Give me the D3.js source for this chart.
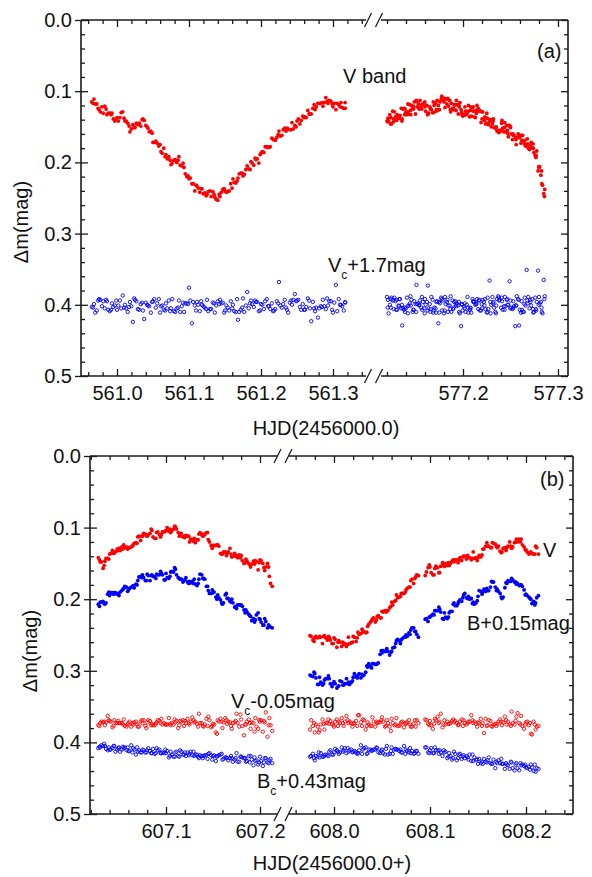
<!DOCTYPE html>
<html>
<head>
<meta charset="utf-8">
<script src="https://cdnjs.cloudflare.com/ajax/libs/d3/7.8.5/d3.min.js"></script>
<style>
  body { margin: 0; background: #fff; }
  svg text { font-family: "Liberation Sans", Arial, sans-serif; fill: #111; }
</style>
</head>
<body>
<svg id="chart" width="592" height="877"></svg>
<script>
// panel (a) rows: [HJD-2456000, V, Vc+1.7]
const rows561 = [
  [560.965,0.115,0.403],[560.968,0.111,0.399],[560.972,0.118,0.408],[560.975,0.126,0.392],[560.979,0.122,0.402],
  [560.983,0.121,0.405],[560.986,0.133,0.395],[560.990,0.131,0.409],[560.993,0.131,0.398],[560.997,0.142,0.401],
  [561.000,0.137,0.407],[561.004,0.137,0.394],[561.008,0.129,0.387],[561.011,0.142,0.400],[561.015,0.145,0.410],
  [561.018,0.157,0.396],[561.022,0.147,0.424],[561.025,0.151,0.393],[561.029,0.147,0.406],[561.033,0.149,0.399],
  [561.036,0.139,0.408],[561.040,0.148,0.397],[561.043,0.152,0.401],[561.047,0.156,0.411],[561.050,0.172,0.395],
  [561.054,0.170,0.404],[561.058,0.177,0.392],[561.061,0.185,0.402],[561.065,0.180,0.407],[561.068,0.189,0.398],
  [561.072,0.192,0.394],[561.075,0.203,0.405],[561.079,0.197,0.409],[561.083,0.200,0.405],[561.086,0.192,0.394],
  [561.090,0.205,0.402],[561.093,0.207,0.410],[561.097,0.220,0.398],[561.100,0.223,0.376],[561.104,0.230,0.426],
  [561.108,0.240,0.401],[561.111,0.233,0.396],[561.115,0.242,0.409],[561.118,0.237,0.400],[561.122,0.243,0.404],
  [561.125,0.245,0.393],[561.129,0.240,0.406],[561.133,0.241,0.397],[561.136,0.249,0.411],[561.140,0.253,0.395],
  [561.143,0.248,0.393],[561.147,0.238,0.397],[561.150,0.240,0.408],[561.154,0.241,0.404],[561.158,0.230,0.395],
  [561.161,0.223,0.400],[561.165,0.229,0.410],[561.168,0.222,0.421],[561.172,0.215,0.407],[561.175,0.219,0.391],
  [561.179,0.210,0.401],[561.183,0.209,0.405],[561.186,0.199,0.394],[561.190,0.204,0.403],[561.193,0.196,0.396],
  [561.197,0.201,0.409],[561.200,0.187,0.399],[561.204,0.186,0.406],[561.208,0.178,0.392],[561.211,0.179,0.402],
  [561.215,0.166,0.398],[561.218,0.168,0.408],[561.222,0.165,0.395],[561.225,0.156,0.368],[561.229,0.162,0.404],
  [561.233,0.152,0.393],[561.236,0.152,0.407],[561.240,0.154,0.397],[561.243,0.144,0.400],[561.247,0.148,0.385],
  [561.250,0.142,0.394],[561.254,0.146,0.403],[561.258,0.135,0.399],[561.261,0.136,0.407],[561.265,0.127,0.391],
  [561.268,0.132,0.405],[561.272,0.124,0.396],[561.275,0.126,0.409],[561.279,0.117,0.418],[561.283,0.117,0.402],
  [561.286,0.121,0.393],[561.290,0.109,0.406],[561.293,0.117,0.401],[561.297,0.114,0.395],[561.300,0.122,0.411],
  [561.304,0.126,0.372],[561.308,0.119,0.392],[561.311,0.116,0.400],[561.315,0.124,0.408],[561.317,0.124,0.397]
];
const rows561b = [
  [560.9668,0.117,0.404],[560.9698,0.118,0.411],[560.9738,0.124,0.394],[560.9768,0.129,0.393],[560.9808,0.131,0.395],
  [560.9848,0.125,0.393],[560.9878,0.131,0.407],[560.9918,0.133,0.407],[560.9948,0.139,0.403],[560.9988,0.139,0.394],
  [561.0018,0.142,0.401],[561.0058,0.130,0.405],[561.0098,0.138,0.404],[561.0128,0.142,0.405],[561.0168,0.149,0.403],
  [561.0198,0.153,0.402],[561.0238,0.151,0.391],[561.0268,0.145,0.395],[561.0308,0.145,0.407],[561.0348,0.140,0.397],
  [561.0378,0.141,0.420],[561.0418,0.150,0.400],[561.0448,0.157,0.402],[561.0488,0.159,0.396],[561.0518,0.172,0.392],
  [561.0558,0.173,0.398],[561.0598,0.175,0.411],[561.0628,0.187,0.401],[561.0668,0.192,0.408],[561.0698,0.195,0.405],
  [561.0738,0.197,0.409],[561.0768,0.201,0.392],[561.0808,0.196,0.410],[561.0848,0.197,0.404],[561.0878,0.204,0.410],
  [561.0918,0.201,0.397],[561.0948,0.216,0.398],[561.0988,0.219,0.399],[561.1018,0.222,0.394],[561.1058,0.230,0.396],
  [561.1098,0.232,0.408],[561.1128,0.236,0.400],[561.1168,0.237,0.395],[561.1198,0.244,0.402],[561.1238,0.247,0.406],
  [561.1268,0.241,0.409],[561.1308,0.248,0.406],[561.1348,0.245,0.398],[561.1378,0.252,0.401],[561.1418,0.245,0.399],
  [561.1448,0.242,0.398],[561.1488,0.237,0.411],[561.1518,0.242,0.401],[561.1558,0.240,0.408],[561.1598,0.236,0.405],
  [561.1628,0.228,0.409],[561.1668,0.226,0.392],[561.1698,0.216,0.410],[561.1738,0.215,0.404],[561.1768,0.217,0.410],
  [561.1808,0.205,0.382],[561.1848,0.210,0.398],[561.1878,0.201,0.399],[561.1918,0.194,0.394],[561.1948,0.195,0.396],
  [561.1988,0.189,0.408],[561.2018,0.185,0.400],[561.2058,0.178,0.395],[561.2098,0.179,0.402],[561.2128,0.178,0.406],
  [561.2168,0.168,0.409],[561.2198,0.169,0.406],[561.2238,0.161,0.398],[561.2268,0.163,0.401],[561.2308,0.154,0.399],
  [561.2348,0.156,0.404],[561.2378,0.153,0.411],[561.2418,0.154,0.394],[561.2448,0.153,0.393],[561.2488,0.150,0.395],
  [561.2518,0.139,0.393],[561.2558,0.141,0.407],[561.2598,0.137,0.407],[561.2628,0.137,0.403],[561.2668,0.132,0.394],
  [561.2698,0.132,0.423],[561.2738,0.119,0.405],[561.2768,0.122,0.404],[561.2808,0.117,0.405],[561.2848,0.116,0.403],
  [561.2878,0.116,0.402],[561.2918,0.114,0.391],[561.2948,0.113,0.395],[561.2988,0.118,0.407],[561.3018,0.117,0.397],
  [561.3058,0.117,0.409],[561.3098,0.122,0.400],[561.3128,0.123,0.402],[561.3168,0.116,0.396]
];
const rows577 = [
  [577.120,0.142,0.389],[577.121,0.138,0.393],[577.123,0.133,0.400],[577.124,0.137,0.404],[577.126,0.128,0.394],
  [577.127,0.139,0.406],[577.129,0.136,0.395],[577.130,0.141,0.393],[577.132,0.138,0.401],[577.133,0.138,0.392],
  [577.135,0.124,0.405],[577.136,0.139,0.429],[577.138,0.124,0.407],[577.139,0.125,0.410],[577.141,0.133,0.390],
  [577.142,0.118,0.412],[577.144,0.119,0.398],[577.145,0.133,0.401],[577.147,0.124,0.410],[577.148,0.125,0.407],
  [577.150,0.132,0.399],[577.151,0.114,0.372],[577.153,0.118,0.398],[577.154,0.125,0.400],[577.156,0.120,0.404],
  [577.157,0.119,0.407],[577.159,0.117,0.405],[577.160,0.122,0.392],[577.162,0.120,0.396],[577.163,0.132,0.373],
  [577.165,0.122,0.399],[577.166,0.125,0.406],[577.168,0.130,0.393],[577.169,0.130,0.408],[577.171,0.117,0.405],
  [577.172,0.126,0.396],[577.174,0.120,0.426],[577.175,0.126,0.411],[577.177,0.111,0.390],[577.178,0.110,0.408],
  [577.180,0.115,0.412],[577.181,0.123,0.389],[577.183,0.118,0.396],[577.184,0.110,0.410],[577.186,0.113,0.401],
  [577.187,0.129,0.388],[577.189,0.124,0.394],[577.190,0.124,0.404],[577.192,0.119,0.395],[577.193,0.113,0.402],
  [577.195,0.132,0.401],[577.196,0.122,0.410],[577.198,0.126,0.430],[577.199,0.133,0.399],[577.201,0.134,0.402],
  [577.202,0.122,0.398],[577.204,0.133,0.400],[577.205,0.128,0.404],[577.207,0.136,0.407],[577.208,0.122,0.405],
  [577.210,0.123,0.392],[577.211,0.128,0.396],[577.213,0.137,0.400],[577.214,0.131,0.399],[577.216,0.124,0.406],
  [577.217,0.128,0.393],[577.219,0.144,0.408],[577.220,0.139,0.405],[577.222,0.140,0.396],[577.223,0.136,0.392],
  [577.225,0.131,0.411],[577.226,0.145,0.390],[577.228,0.143,0.366],[577.229,0.140,0.412],[577.231,0.146,0.389],
  [577.232,0.139,0.396],[577.234,0.152,0.410],[577.235,0.150,0.401],[577.237,0.156,0.388],[577.238,0.155,0.394],
  [577.240,0.155,0.404],[577.241,0.141,0.395],[577.243,0.157,0.402],[577.244,0.144,0.389],[577.246,0.148,0.393],
  [577.247,0.159,0.400],[577.249,0.148,0.367],[577.250,0.151,0.394],[577.252,0.168,0.406],[577.253,0.162,0.395],
  [577.255,0.166,0.430],[577.256,0.175,0.401],[577.258,0.160,0.392],[577.259,0.165,0.429],[577.261,0.173,0.411],
  [577.262,0.169,0.407],[577.264,0.170,0.410],[577.265,0.169,0.390],[577.267,0.176,0.351],[577.268,0.174,0.398],
  [577.270,0.182,0.405],[577.271,0.178,0.396],[577.273,0.180,0.392],[577.274,0.180,0.411],[577.276,0.190,0.390],
  [577.277,0.190,0.408],[577.279,0.212,0.352],[577.280,0.207,0.389],[577.282,0.218,0.396],[577.283,0.230,0.410],
  [577.285,0.244,0.365],[577.286,0.238,0.388]
];
const rows577b = [
  [577.1207,0.143,0.404],[577.1217,0.142,0.412],[577.1237,0.146,0.392],[577.1247,0.146,0.390],[577.1267,0.143,0.393],
  [577.1277,0.129,0.390],[577.1297,0.135,0.407],[577.1307,0.133,0.407],[577.1327,0.137,0.402],[577.1337,0.134,0.392],
  [577.1357,0.142,0.400],[577.1367,0.125,0.405],[577.1387,0.133,0.404],[577.1397,0.130,0.405],[577.1417,0.129,0.402],
  [577.1427,0.132,0.401],[577.1447,0.127,0.388],[577.1457,0.120,0.393],[577.1477,0.121,0.407],[577.1487,0.115,0.395],
  [577.1507,0.113,0.410],[577.1517,0.122,0.399],[577.1537,0.124,0.401],[577.1547,0.113,0.394],[577.1567,0.125,0.389],
  [577.1577,0.118,0.396],[577.1597,0.115,0.412],[577.1607,0.128,0.400],[577.1627,0.133,0.408],[577.1637,0.131,0.405],
  [577.1657,0.125,0.410],[577.1667,0.126,0.389],[577.1687,0.115,0.411],[577.1697,0.120,0.404],[577.1717,0.128,0.411],
  [577.1727,0.113,0.395],[577.1747,0.126,0.396],[577.1757,0.115,0.398],[577.1777,0.107,0.392],[577.1787,0.112,0.394],
  [577.1807,0.110,0.408],[577.1817,0.111,0.399],[577.1837,0.111,0.393],[577.1847,0.121,0.401],[577.1867,0.126,0.406],
  [577.1877,0.117,0.410],[577.1897,0.126,0.406],[577.1907,0.119,0.396],[577.1927,0.127,0.400],[577.1937,0.119,0.398],
  [577.1957,0.119,0.396],[577.1967,0.116,0.412],[577.1987,0.130,0.400],[577.1997,0.135,0.408],[577.2017,0.133,0.405],
  [577.2027,0.128,0.410],[577.2047,0.130,0.389],[577.2057,0.120,0.411],[577.2077,0.127,0.404],[577.2087,0.135,0.411],
  [577.2107,0.122,0.395],[577.2117,0.136,0.396],[577.2137,0.127,0.398],[577.2147,0.120,0.392],[577.2167,0.127,0.394],
  [577.2177,0.127,0.408],[577.2197,0.129,0.399],[577.2207,0.129,0.393],[577.2227,0.141,0.401],[577.2237,0.146,0.406],
  [577.2257,0.138,0.410],[577.2267,0.147,0.406],[577.2287,0.141,0.396],[577.2297,0.150,0.400],[577.2317,0.142,0.398],
  [577.2327,0.151,0.404],[577.2347,0.151,0.412],[577.2357,0.156,0.392],[577.2377,0.158,0.390],[577.2387,0.157,0.393],
  [577.2407,0.145,0.390],[577.2417,0.152,0.407],[577.2437,0.151,0.407],[577.2447,0.157,0.402],[577.2467,0.155,0.392],
  [577.2477,0.164,0.400],[577.2497,0.150,0.405],[577.2507,0.160,0.404],[577.2527,0.160,0.405],[577.2537,0.162,0.402],
  [577.2557,0.168,0.401],[577.2567,0.165,0.388],[577.2587,0.161,0.393],[577.2597,0.165,0.407],[577.2617,0.162,0.395],
  [577.2627,0.162,0.410],[577.2647,0.174,0.399],[577.2657,0.177,0.401],[577.2677,0.167,0.394],[577.2687,0.180,0.389],
  [577.2707,0.176,0.393],[577.2717,0.172,0.401],[577.2737,0.174,0.406],[577.2747,0.186,0.410],[577.2767,0.193,0.406],
  [577.2777,0.184,0.396],[577.2797,0.206,0.400],[577.2807,0.206,0.398],[577.2827,0.212,0.404],[577.2837,0.232,0.412],
  [577.2857,0.248,0.392]
];
// panel (b) rows: [HJD-2456000, V, B+0.15, Vc-0.05, Bc+0.43]
const rows607 = [
  [607.028,0.142,0.207,0.376,0.408],[607.030,0.148,0.204,0.373,0.407],[607.033,0.157,0.203,0.372,0.405],
  [607.035,0.147,0.207,0.376,0.405],[607.038,0.143,0.193,0.363,0.411],[607.040,0.137,0.195,0.370,0.410],
  [607.043,0.132,0.191,0.379,0.408],[607.045,0.135,0.191,0.369,0.405],[607.048,0.130,0.193,0.373,0.410],
  [607.050,0.129,0.195,0.373,0.407],[607.053,0.127,0.188,0.373,0.410],[607.055,0.124,0.185,0.368,0.408],
  [607.058,0.127,0.183,0.378,0.411],[607.060,0.128,0.187,0.373,0.412],[607.063,0.127,0.183,0.378,0.404],
  [607.065,0.124,0.181,0.375,0.408],[607.068,0.121,0.179,0.371,0.417],[607.070,0.113,0.174,0.378,0.413],
  [607.073,0.118,0.168,0.371,0.414],[607.075,0.112,0.166,0.373,0.410],[607.078,0.109,0.174,0.377,0.414],
  [607.080,0.112,0.165,0.372,0.411],[607.083,0.108,0.174,0.370,0.412],[607.085,0.104,0.166,0.374,0.415],
  [607.088,0.115,0.169,0.376,0.416],[607.090,0.107,0.165,0.372,0.408],[607.093,0.110,0.166,0.370,0.410],
  [607.095,0.110,0.164,0.367,0.415],[607.098,0.106,0.173,0.373,0.415],[607.100,0.104,0.164,0.375,0.415],
  [607.103,0.105,0.171,0.366,0.421],[607.105,0.107,0.162,0.376,0.413],[607.108,0.102,0.162,0.375,0.420],
  [607.110,0.099,0.158,0.372,0.414],[607.113,0.107,0.170,0.380,0.419],[607.115,0.110,0.172,0.370,0.411],
  [607.118,0.113,0.176,0.369,0.417],[607.120,0.114,0.173,0.370,0.414],[607.123,0.112,0.176,0.367,0.414],
  [607.125,0.120,0.175,0.375,0.416],[607.128,0.117,0.175,0.365,0.418],[607.130,0.115,0.172,0.372,0.419],
  [607.133,0.117,0.181,0.374,0.417],[607.135,0.109,0.172,0.360,0.422],[607.138,0.110,0.166,0.373,0.419],
  [607.140,0.109,0.171,0.378,0.419],[607.143,0.107,0.182,0.367,0.418],[607.145,0.117,0.188,0.364,0.416],
  [607.148,0.125,0.192,0.379,0.418],[607.150,0.125,0.191,0.374,0.419],[607.153,0.125,0.197,0.386,0.426],
  [607.155,0.124,0.194,0.369,0.419],[607.158,0.136,0.201,0.367,0.417],[607.160,0.137,0.207,0.380,0.424],
  [607.163,0.134,0.194,0.366,0.421],[607.165,0.136,0.199,0.374,0.422],[607.168,0.129,0.203,0.372,0.422],
  [607.170,0.141,0.200,0.381,0.422],[607.173,0.136,0.211,0.372,0.424],[607.175,0.139,0.213,0.360,0.415],
  [607.178,0.138,0.208,0.378,0.427],[607.180,0.139,0.208,0.368,0.420],[607.183,0.150,0.215,0.390,0.422],
  [607.185,0.144,0.215,0.375,0.427],[607.188,0.150,0.221,0.368,0.419],[607.190,0.155,0.224,0.381,0.419],
  [607.193,0.147,0.227,0.373,0.432],[607.195,0.146,0.229,0.366,0.426],[607.198,0.159,0.219,0.381,0.431],
  [607.200,0.145,0.228,0.371,0.420],[607.203,0.150,0.236,0.385,0.433],[607.205,0.160,0.227,0.372,0.422],
  [607.208,0.150,0.240,0.392,0.428],[607.210,0.168,0.238,0.366,0.425],[607.213,0.182,0.240,0.384,0.429]
];
const rows607b = [
  [607.0292,0.145,0.210,0.377,0.406],[607.0312,0.148,0.204,0.371,0.404],[607.0342,0.153,0.206,0.371,0.402],
  [607.0362,0.143,0.205,0.372,0.409],[607.0392,0.144,0.190,0.369,0.407],[607.0412,0.136,0.191,0.371,0.410],
  [607.0442,0.136,0.193,0.377,0.405],[607.0462,0.134,0.191,0.373,0.413],[607.0492,0.132,0.192,0.370,0.408],
  [607.0512,0.132,0.190,0.373,0.413],[607.0542,0.130,0.186,0.375,0.406],[607.0562,0.128,0.182,0.377,0.407],
  [607.0592,0.130,0.189,0.375,0.407],[607.0612,0.128,0.185,0.371,0.412],[607.0642,0.126,0.183,0.373,0.414],
  [607.0662,0.122,0.184,0.372,0.410],[607.0692,0.122,0.180,0.375,0.407],[607.0712,0.112,0.169,0.378,0.411],
  [607.0742,0.112,0.170,0.369,0.414],[607.0762,0.108,0.170,0.369,0.411],[607.0792,0.111,0.174,0.380,0.414],
  [607.0812,0.110,0.167,0.369,0.408],[607.0842,0.102,0.167,0.376,0.415],[607.0862,0.113,0.168,0.376,0.409],
  [607.0892,0.115,0.171,0.374,0.415],[607.0912,0.106,0.166,0.369,0.411],[607.0942,0.113,0.161,0.373,0.415],
  [607.0962,0.106,0.166,0.375,0.414],[607.0992,0.105,0.173,0.375,0.410],[607.1012,0.100,0.170,0.375,0.412],
  [607.1042,0.102,0.168,0.374,0.419],[607.1062,0.104,0.161,0.373,0.417],[607.1092,0.098,0.156,0.368,0.420],
  [607.1112,0.102,0.166,0.370,0.413],[607.1142,0.112,0.171,0.376,0.420],[607.1162,0.108,0.172,0.371,0.413],
  [607.1192,0.112,0.174,0.377,0.417],[607.1212,0.111,0.170,0.373,0.419],[607.1242,0.112,0.178,0.373,0.418],
  [607.1262,0.116,0.177,0.371,0.413],[607.1292,0.119,0.178,0.369,0.413],[607.1312,0.121,0.179,0.371,0.417],
  [607.1342,0.117,0.178,0.378,0.420],[607.1362,0.107,0.165,0.373,0.418],[607.1392,0.112,0.171,0.377,0.422],
  [607.1412,0.110,0.172,0.375,0.418],[607.1442,0.107,0.182,0.377,0.423],[607.1462,0.120,0.192,0.369,0.415],
  [607.1492,0.129,0.187,0.377,0.424],[607.1512,0.125,0.190,0.375,0.418],[607.1542,0.124,0.200,0.388,0.420],
  [607.1562,0.126,0.198,0.371,0.418],[607.1592,0.137,0.205,0.371,0.416],[607.1612,0.134,0.205,0.372,0.423],
  [607.1642,0.139,0.192,0.369,0.421],[607.1662,0.134,0.199,0.371,0.425],[607.1692,0.137,0.204,0.377,0.419],
  [607.1712,0.140,0.205,0.373,0.427],[607.1742,0.140,0.210,0.370,0.422],[607.1762,0.142,0.208,0.373,0.427],
  [607.1792,0.142,0.208,0.361,0.420],[607.1812,0.146,0.210,0.377,0.421],[607.1842,0.149,0.219,0.375,0.422],
  [607.1862,0.147,0.218,0.371,0.426],[607.1892,0.152,0.223,0.373,0.428],[607.1912,0.151,0.230,0.372,0.424],
  [607.1942,0.151,0.232,0.385,0.421],[607.1962,0.148,0.222,0.378,0.425],[607.1992,0.149,0.227,0.369,0.428],
  [607.2012,0.146,0.232,0.369,0.426],[607.2042,0.156,0.236,0.370,0.428],[607.2062,0.155,0.231,0.358,0.422],
  [607.2092,0.155,0.236,0.376,0.429],[607.2112,0.178,0.239,0.376,0.423]
];
const rows608 = [
  [607.975,0.251,0.306,0.382,0.420],[607.978,0.257,0.308,0.377,0.416],[607.980,0.254,0.304,0.386,0.425],
  [607.983,0.254,0.319,0.378,0.420],[607.985,0.252,0.309,0.383,0.421],[607.988,0.262,0.320,0.368,0.420],
  [607.990,0.251,0.313,0.382,0.418],[607.993,0.257,0.311,0.373,0.418],[607.995,0.253,0.311,0.374,0.413],
  [607.998,0.262,0.322,0.374,0.417],[608.000,0.254,0.315,0.378,0.414],[608.003,0.267,0.324,0.368,0.411],
  [608.005,0.258,0.321,0.371,0.416],[608.008,0.266,0.315,0.366,0.407],[608.010,0.263,0.320,0.377,0.411],
  [608.013,0.266,0.311,0.363,0.415],[608.015,0.253,0.316,0.373,0.413],[608.018,0.261,0.316,0.373,0.410],
  [608.020,0.252,0.309,0.374,0.413],[608.023,0.259,0.308,0.370,0.414],[608.025,0.246,0.306,0.362,0.415],
  [608.028,0.248,0.310,0.372,0.404],[608.030,0.246,0.307,0.368,0.410],[608.033,0.247,0.302,0.382,0.407],
  [608.035,0.238,0.295,0.372,0.415],[608.038,0.232,0.294,0.377,0.410],[608.040,0.228,0.290,0.365,0.411],
  [608.043,0.232,0.291,0.378,0.410],[608.045,0.224,0.290,0.373,0.408],[608.048,0.226,0.277,0.372,0.415],
  [608.050,0.217,0.275,0.365,0.410],[608.053,0.216,0.273,0.378,0.417],[608.055,0.216,0.269,0.369,0.405],
  [608.058,0.212,0.278,0.378,0.416],[608.060,0.204,0.273,0.367,0.407],[608.063,0.203,0.267,0.376,0.410],
  [608.065,0.194,0.258,0.366,0.410],[608.068,0.197,0.258,0.377,0.412],[608.070,0.192,0.257,0.372,0.414],
  [608.073,0.192,0.253,0.379,0.405],[608.075,0.187,0.250,0.374,0.410],[608.078,0.183,0.247,0.369,0.414],
  [608.080,0.174,0.243,0.378,0.415],[608.083,0.178,0.240,0.374,0.416],[608.085,0.169,0.245,0.378,0.412],
  [608.088,0.167,0.253,0.373,0.416],
  [608.095,0.167,0.228,0.368,0.407],[608.098,0.156,0.231,0.374,0.414],[608.100,0.155,0.225,0.370,0.411],
  [608.103,0.166,0.221,0.381,0.415],[608.105,0.157,0.216,0.367,0.407],[608.108,0.156,0.216,0.364,0.411],
  [608.110,0.163,0.214,0.371,0.411],[608.113,0.149,0.227,0.379,0.419],[608.115,0.154,0.219,0.369,0.414],
  [608.118,0.153,0.227,0.371,0.422],[608.120,0.153,0.219,0.374,0.415],[608.123,0.147,0.217,0.370,0.424],
  [608.125,0.148,0.205,0.372,0.413],[608.128,0.145,0.209,0.373,0.425],[608.130,0.145,0.203,0.375,0.417],
  [608.133,0.146,0.203,0.368,0.423],[608.135,0.140,0.194,0.369,0.418],[608.138,0.144,0.198,0.375,0.419],
  [608.140,0.142,0.196,0.371,0.424],[608.143,0.145,0.199,0.362,0.426],[608.145,0.134,0.204,0.373,0.426],
  [608.148,0.142,0.205,0.374,0.424],[608.150,0.142,0.196,0.372,0.430],[608.153,0.141,0.189,0.367,0.429],
  [608.155,0.130,0.190,0.373,0.430],[608.158,0.126,0.189,0.367,0.427],[608.160,0.126,0.188,0.376,0.425],
  [608.163,0.128,0.183,0.370,0.429],[608.165,0.121,0.176,0.378,0.430],[608.168,0.123,0.183,0.374,0.436],
  [608.170,0.128,0.186,0.374,0.429],[608.173,0.133,0.192,0.368,0.429],[608.175,0.134,0.199,0.376,0.430],
  [608.178,0.128,0.184,0.364,0.437],[608.180,0.128,0.178,0.375,0.431],[608.183,0.120,0.175,0.375,0.437],
  [608.185,0.129,0.171,0.357,0.428],[608.188,0.121,0.176,0.375,0.439],[608.190,0.116,0.179,0.364,0.429],
  [608.193,0.116,0.181,0.373,0.439],[608.195,0.116,0.180,0.363,0.432],[608.198,0.127,0.187,0.381,0.433],
  [608.200,0.131,0.193,0.372,0.435],[608.203,0.137,0.197,0.376,0.434],[608.205,0.134,0.200,0.388,0.431],
  [608.208,0.137,0.203,0.371,0.440],[608.210,0.126,0.205,0.382,0.441],[608.213,0.137,0.195,0.377,0.437]
];
const rows608b = [
  [607.9762,0.252,0.307,0.369,0.419],[607.9792,0.259,0.302,0.373,0.422],[607.9812,0.252,0.310,0.375,0.419],
  [607.9842,0.253,0.319,0.386,0.414],[607.9862,0.253,0.316,0.375,0.415],[607.9892,0.252,0.318,0.374,0.420],
  [607.9912,0.254,0.311,0.373,0.417],[607.9942,0.252,0.307,0.368,0.419],[607.9962,0.257,0.318,0.370,0.411],
  [607.9992,0.262,0.318,0.376,0.417],[608.0012,0.256,0.318,0.371,0.409],[608.0042,0.260,0.322,0.377,0.413],
  [608.0062,0.260,0.314,0.373,0.414],[608.0092,0.260,0.320,0.373,0.413],[608.0112,0.262,0.318,0.371,0.408],
  [608.0142,0.263,0.318,0.369,0.408],[608.0162,0.262,0.319,0.371,0.411],[608.0192,0.260,0.314,0.378,0.414],
  [608.0212,0.253,0.304,0.373,0.412],[608.0242,0.254,0.310,0.377,0.416],[608.0262,0.249,0.304,0.362,0.411],
  [608.0292,0.242,0.305,0.377,0.416],[608.0312,0.245,0.306,0.369,0.408],[608.0342,0.246,0.293,0.377,0.416],
  [608.0362,0.235,0.290,0.375,0.410],[608.0392,0.230,0.296,0.377,0.412],[608.0412,0.226,0.290,0.371,0.410],
  [608.0442,0.229,0.291,0.371,0.407],[608.0462,0.223,0.289,0.372,0.414],[608.0492,0.226,0.272,0.369,0.412],
  [608.0512,0.218,0.272,0.371,0.415],[608.0542,0.218,0.273,0.377,0.409],[608.0562,0.216,0.273,0.373,0.417],
  [608.0592,0.210,0.274,0.384,0.412],[608.0612,0.208,0.268,0.373,0.416],[608.0642,0.202,0.262,0.375,0.409],
  [608.0662,0.198,0.256,0.377,0.410],[608.0692,0.196,0.262,0.375,0.410],[608.0712,0.192,0.255,0.371,0.414],
  [608.0742,0.190,0.253,0.373,0.416],[608.0762,0.185,0.252,0.372,0.412],[608.0792,0.183,0.249,0.375,0.408],
  [608.0812,0.172,0.240,0.378,0.412],[608.0842,0.171,0.245,0.369,0.415],[608.0862,0.166,0.249,0.369,0.412],
  [608.0962,0.162,0.227,0.369,0.407],[608.0992,0.152,0.225,0.376,0.415],[608.1012,0.163,0.223,0.376,0.408],
  [608.1042,0.166,0.222,0.374,0.415],[608.1062,0.154,0.216,0.369,0.411],[608.1092,0.163,0.211,0.373,0.416],
  [608.1112,0.154,0.218,0.360,0.414],[608.1142,0.152,0.228,0.375,0.411],[608.1162,0.150,0.225,0.375,0.413],
  [608.1192,0.149,0.225,0.374,0.420],[608.1212,0.150,0.217,0.373,0.419],[608.1242,0.145,0.207,0.368,0.422],
  [608.1262,0.145,0.209,0.370,0.416],[608.1292,0.149,0.206,0.376,0.422],[608.1312,0.142,0.201,0.371,0.416],
  [608.1342,0.141,0.198,0.377,0.420],[608.1362,0.140,0.192,0.373,0.422],[608.1392,0.139,0.199,0.373,0.421],
  [608.1412,0.142,0.200,0.371,0.417],[608.1442,0.143,0.206,0.369,0.417],[608.1462,0.143,0.207,0.371,0.421],
  [608.1492,0.146,0.202,0.378,0.424],[608.1512,0.139,0.188,0.373,0.423],[608.1542,0.138,0.193,0.377,0.427],
  [608.1562,0.130,0.186,0.387,0.423],[608.1592,0.121,0.185,0.377,0.428],[608.1612,0.126,0.188,0.369,0.421],
  [608.1642,0.128,0.175,0.377,0.430],[608.1662,0.122,0.176,0.375,0.424],[608.1692,0.126,0.188,0.377,0.427],
  [608.1712,0.126,0.189,0.371,0.425],[608.1742,0.135,0.197,0.371,0.423],[608.1762,0.129,0.197,0.372,0.430],
  [608.1792,0.132,0.177,0.369,0.429],[608.1812,0.126,0.174,0.371,0.432],[608.1842,0.126,0.175,0.377,0.427],
  [608.1862,0.127,0.173,0.373,0.436],[608.1892,0.120,0.176,0.370,0.431],[608.1912,0.120,0.178,0.359,0.436],
  [608.1942,0.120,0.180,0.375,0.429],[608.1962,0.124,0.182,0.377,0.431],[608.1992,0.131,0.194,0.375,0.431],
  [608.2012,0.134,0.195,0.371,0.436],[608.2042,0.136,0.199,0.373,0.438],[608.2062,0.136,0.206,0.389,0.435],
  [608.2092,0.137,0.208,0.375,0.431],[608.2112,0.128,0.198,0.378,0.436]
];

// tick labels
const yMajor = [0.0, 0.1, 0.2, 0.3, 0.4, 0.5];
const xMajorA1 = [561.0, 561.1, 561.2, 561.3];
const xMajorA2 = [577.2, 577.3];
const xMajorB1 = [607.1, 607.2];
const xMajorB2 = [608.0, 608.1, 608.2];

const RED = "#ff0000", BLUE = "#0000ff", INK = "#1a1a1a";
const svg = d3.select("#chart");
svg.append("rect").attr("width", 592).attr("height", 877).attr("fill", "#fff");

const panels = [
  {
    left: 81, right: 568, top: 20, bottom: 376,
    segs: [
      { range: [81, 366], anchor: [561.0, 117], ppd: 720, major: xMajorA1, rows: rows561.concat(rows561b) },
      { range: [381, 568], anchor: [577.2, 463], ppd: 950, major: xMajorA2, rows: rows577.concat(rows577b) }
    ],
    series: [{ col: 1, color: RED, open: false }, { col: 2, color: BLUE, open: true }],
    xTitle: { x: 326, y: 435, text: "HJD(2456000.0)" },
    yTitle: { x: 28, y: 222 },
    notes: [
      { x: 537, y: 58, parts: [["(a)"]] },
      { x: 343, y: 83, parts: [["V band"]] },
      { x: 328, y: 272, parts: [["V"], ["c", true], ["+1.7mag"]] }
    ]
  },
  {
    left: 90, right: 573, top: 456, bottom: 814,
    segs: [
      { range: [90, 277], anchor: [607.1, 166], ppd: 940, major: xMajorB1, rows: rows607.concat(rows607b) },
      { range: [289, 573], anchor: [608.0, 334], ppd: 960, major: xMajorB2, rows: rows608.concat(rows608b) }
    ],
    series: [
      { col: 1, color: RED, open: false }, { col: 2, color: BLUE, open: false },
      { col: 3, color: RED, open: true }, { col: 4, color: BLUE, open: true }
    ],
    xTitle: { x: 332, y: 870, text: "HJD(2456000.0+)" },
    yTitle: { x: 37, y: 651 },
    notes: [
      { x: 540, y: 486, parts: [["(b)"]] },
      { x: 543, y: 557, parts: [["V"]] },
      { x: 467, y: 630, parts: [["B+0.15mag"]] },
      { x: 231, y: 708, parts: [["V"], ["c", true], ["-0.05mag"]] },
      { x: 257, y: 788, parts: [["B"], ["c", true], ["+0.43mag"]] }
    ]
  }
];

function minorTicks(domain) {
  const out = [];
  for (let k = Math.ceil(domain[0] / 0.02 - 1e-6); k * 0.02 <= domain[1] + 1e-9; k++) {
    const v = +(k * 0.02).toFixed(3);
    if (Math.abs(v * 10 - Math.round(v * 10)) > 1e-6) out.push(v);
  }
  return out;
}

function styleAxis(sel) {
  sel.select(".domain").remove();
  sel.attr("font-family", null).attr("font-size", null);
  sel.selectAll(".tick line").attr("stroke", INK).attr("stroke-width", 1.3);
  sel.selectAll(".tick text").attr("font-size", 20).attr("fill", INK);
}

function drawPanel(p) {
  const g = svg.append("g");
  const y = d3.scaleLinear().domain([0, 0.5]).range([p.top, p.bottom]);

  p.segs.forEach(s => {
    const x = d3.scaleLinear()
      .domain(s.range.map(r => s.anchor[0] + (r - s.anchor[1]) / s.ppd))
      .range(s.range);

    p.series.forEach(ser => {
      g.append("g").selectAll("circle").data(s.rows).join("circle")
        .attr("cx", d => x(d[0]))
        .attr("cy", d => y(d[ser.col]))
        .attr("r", ser.open ? 1.7 : 1.9)
        .attr("fill", ser.open ? "none" : ser.color)
        .attr("stroke", ser.open ? ser.color : "none")
        .attr("stroke-width", 0.9);
    });

    const minor = minorTicks(x.domain());
    g.append("g").attr("transform", `translate(0,${p.bottom})`)
      .call(d3.axisBottom(x).tickValues(minor).tickSizeInner(-4).tickSizeOuter(0).tickFormat(""))
      .call(styleAxis);
    g.append("g").attr("transform", `translate(0,${p.bottom})`)
      .call(d3.axisBottom(x).tickValues(s.major).tickSizeInner(-7).tickSizeOuter(0)
        .tickPadding(10).tickFormat(d3.format(".1f")))
      .call(styleAxis);
    g.append("g").attr("transform", `translate(0,${p.top})`)
      .call(d3.axisTop(x).tickValues(minor).tickSizeInner(-4).tickSizeOuter(0).tickFormat(""))
      .call(styleAxis);
    g.append("g").attr("transform", `translate(0,${p.top})`)
      .call(d3.axisTop(x).tickValues(s.major).tickSizeInner(-7).tickSizeOuter(0).tickFormat(""))
      .call(styleAxis);

    [p.top, p.bottom].forEach(yy => {
      g.append("line").attr("x1", s.range[0]).attr("x2", s.range[1])
        .attr("y1", yy).attr("y2", yy).attr("stroke", INK).attr("stroke-width", 1.6);
    });
  });

  // y axes
  const yMinor = minorTicks([0, 0.5]);
  g.append("g").attr("transform", `translate(${p.left},0)`)
    .call(d3.axisLeft(y).tickValues(yMinor).tickSizeInner(-4).tickSizeOuter(0).tickFormat(""))
    .call(styleAxis);
  g.append("g").attr("transform", `translate(${p.left},0)`)
    .call(d3.axisLeft(y).tickValues(yMajor).tickSizeInner(-7).tickSizeOuter(0)
      .tickPadding(9).tickFormat(d3.format(".1f")))
    .call(styleAxis)
    .call(a => a.selectAll(".tick line").attr("x1", -6));
  g.append("g").attr("transform", `translate(${p.right},0)`)
    .call(d3.axisRight(y).tickValues(yMinor).tickSizeInner(-4).tickSizeOuter(0).tickFormat(""))
    .call(styleAxis);
  g.append("g").attr("transform", `translate(${p.right},0)`)
    .call(d3.axisRight(y).tickValues(yMajor).tickSizeInner(-7).tickSizeOuter(0).tickFormat(""))
    .call(styleAxis);
  [p.left, p.right].forEach(xx => {
    g.append("line").attr("x1", xx).attr("x2", xx).attr("y1", p.top).attr("y2", p.bottom)
      .attr("stroke", INK).attr("stroke-width", 1.6);
  });

  // axis break marks
  const cx = (p.segs[0].range[1] + p.segs[1].range[0]) / 2;
  [p.top, p.bottom].forEach(yy => {
    [-5.5, 5.5].forEach(dx => {
      g.append("line")
        .attr("x1", cx + dx - 3.5).attr("y1", yy + 7)
        .attr("x2", cx + dx + 3.5).attr("y2", yy - 7)
        .attr("stroke", INK).attr("stroke-width", 1.3);
    });
  });

  // titles
  g.append("text").attr("x", p.xTitle.x).attr("y", p.xTitle.y)
    .attr("text-anchor", "middle").attr("font-size", 20).text(p.xTitle.text);
  g.append("text").attr("transform", `translate(${p.yTitle.x},${p.yTitle.y}) rotate(-90)`)
    .attr("text-anchor", "middle").attr("font-size", 20).text("Δm(mag)");

  // annotations
  p.notes.forEach(n => {
    const t = g.append("text").attr("x", n.x).attr("y", n.y).attr("font-size", 20);
    let shifted = false;
    n.parts.forEach(([str, sub]) => {
      const ts = t.append("tspan").text(str);
      if (sub) { ts.attr("font-size", 12).attr("dy", 7); shifted = true; }
      else if (shifted) { ts.attr("dy", -7); shifted = false; }
    });
  });
}

panels.forEach(drawPanel);
</script>
</body>
</html>
